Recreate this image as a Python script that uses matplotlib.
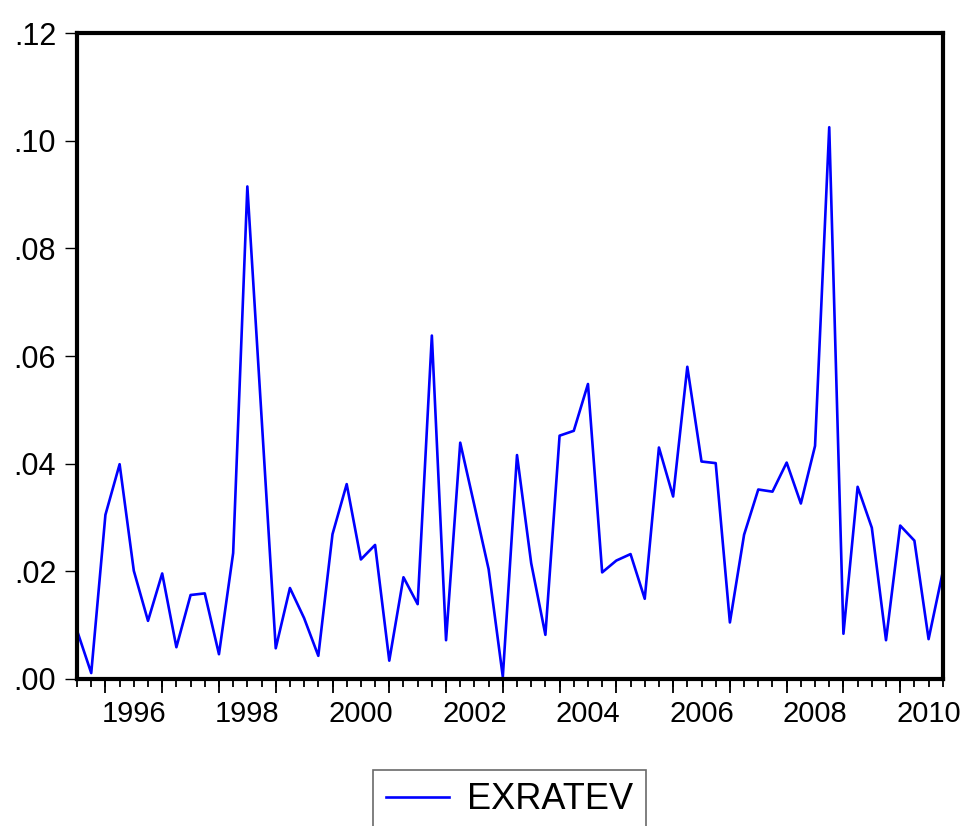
"""
plot.py

Quarterly exchange rate volatility (EXRATEV), 1995Q3 - 2010Q4,
drawn in the style of an EViews line graph.
"""

import numpy as np
import matplotlib
matplotlib.use("Agg")
import matplotlib.pyplot as plt

# Data: one value per quarter, starting 1995Q3
START_YEAR = 1995
START_QUARTER = 3
EXRATEV = [
    0.0090, 0.0011, 0.0305, 0.0399, 0.0201, 0.0108, 0.0196, 0.0059,
    0.0156, 0.0159, 0.0046, 0.0234, 0.0915, 0.0487, 0.0057, 0.0169,
    0.0113, 0.0043, 0.0269, 0.0362, 0.0222, 0.0249, 0.0034, 0.0189,
    0.0139, 0.0638, 0.0072, 0.0439, 0.0322, 0.0204, 0.0004, 0.0416,
    0.0215, 0.0082, 0.0452, 0.0461, 0.0548, 0.0198, 0.0220, 0.0232,
    0.0149, 0.0430, 0.0339, 0.0580, 0.0404, 0.0401, 0.0105, 0.0268,
    0.0352, 0.0348, 0.0402, 0.0326, 0.0433, 0.1025, 0.0084, 0.0357,
    0.0281, 0.0072, 0.0285, 0.0257, 0.0074, 0.0199,
]
Y_TICKS = [0.00, 0.02, 0.04, 0.06, 0.08, 0.10, 0.12]
Y_TICK_LABELS = [".00", ".02", ".04", ".06", ".08", ".10", ".12"]
YEAR_LABELS = [1996, 1998, 2000, 2002, 2004, 2006, 2008, 2010]

plt.rcParams["font.family"] = ["Liberation Sans", "DejaVu Sans"]

# Time axis in fractional years (quarter k -> year + (k-1)/4)
n = len(EXRATEV)
t = START_YEAR + (START_QUARTER - 1) / 4 + 0.25 * np.arange(n)

fig = plt.figure(figsize=(9.63, 8.26), dpi=100)
ax = fig.add_axes([0.080, 0.178, 0.899, 0.782])

ax.plot(t, EXRATEV, color="#0000ff", linewidth=1.9, label="EXRATEV")

ax.set_xlim(t[0], t[-1])
ax.set_ylim(Y_TICKS[0], Y_TICKS[-1])

# Heavy frame on all four sides
for side in ("left", "right", "top", "bottom"):
    ax.spines[side].set_linewidth(3.0)
    ax.spines[side].set_color("black")

# y axis
ax.set_yticks(Y_TICKS)
ax.set_yticklabels(Y_TICK_LABELS)
ax.tick_params(axis="y", direction="out", length=9, width=1.0, pad=6,
               labelsize=22, colors="black")

# x axis: long tick at each year start, short tick every quarter,
# year labels placed mid-year
years = np.arange(int(np.ceil(t[0])), int(np.floor(t[-1])) + 1)
ax.set_xticks(years)
ax.set_xticklabels([""] * len(years))
ax.set_xticks(t, minor=True)
minor_labels = []
for v in t:
    yr = int(np.floor(v + 1e-9))
    if abs(v - (yr + 0.5)) < 1e-6 and yr in YEAR_LABELS:
        minor_labels.append(str(yr))
    else:
        minor_labels.append("")
ax.set_xticklabels(minor_labels, minor=True)
ax.tick_params(axis="x", which="major", direction="out", length=10, width=1.3)
ax.tick_params(axis="x", which="minor", direction="out", length=6, width=1.3,
               pad=9, labelsize=21)
ax.xaxis.remove_overlapping_locs = False

# Legend box sits at the very bottom and runs off the canvas
leg = fig.legend(loc="upper center", bbox_to_anchor=(0.529, 0.068),
                 borderaxespad=0.0, fontsize=26, frameon=True, fancybox=False,
                 handlelength=1.75, handletextpad=0.5, borderpad=0.35)
leg.get_frame().set_edgecolor("#444444")
leg.get_frame().set_linewidth(1.2)

fig.savefig("out.png", dpi=100)
